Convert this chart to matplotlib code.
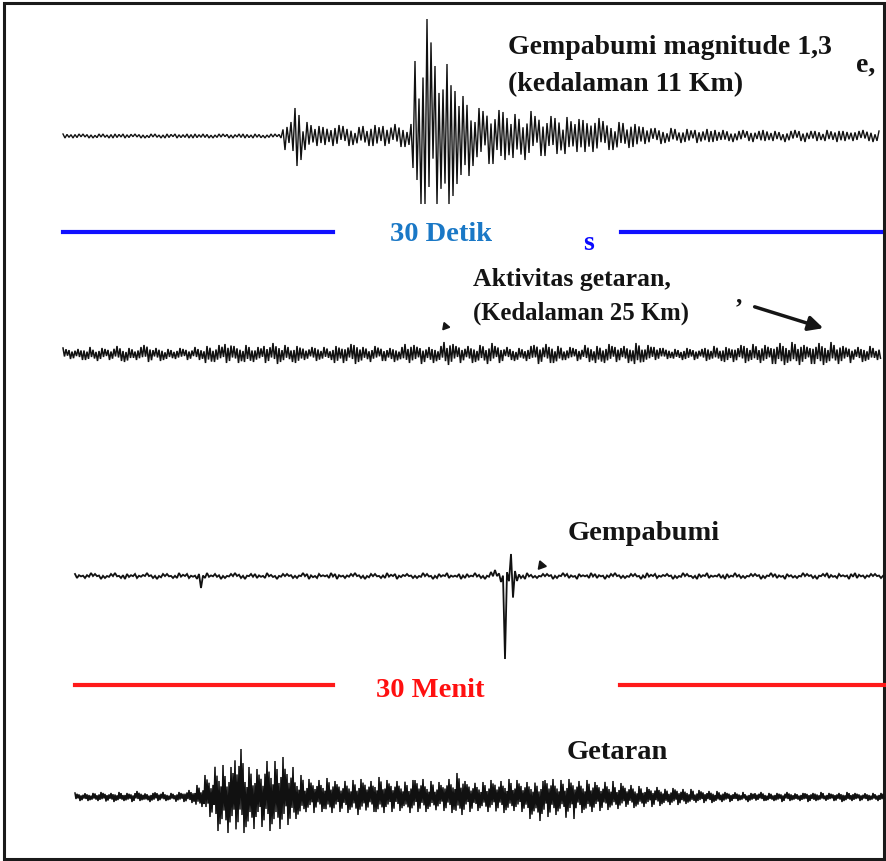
import numpy as np
import matplotlib.pyplot as plt
from matplotlib.patches import Rectangle

plt.rcParams['font.family'] = ['Liberation Serif', 'DejaVu Serif']

# envelope of each trace, one value per 10 px segment (pixels above / below the trace line)
gempa_atas = [2] * 22 + [14, 28, 14,
              10, 9, 11, 10, 9, 10, 11, 10, 12, 12,
              75, 117, 70, 72, 45, 40, 28,
              25, 26, 24, 22, 25, 20,
              20, 18, 19, 17, 16, 18, 15, 14, 13, 12,
              9, 8, 8, 7, 7, 6, 7, 6, 6, 5, 6, 5, 6, 5, 5, 6, 5, 5, 6, 5, 5, 5, 6, 5]
gempa_bawah = [2] * 22 + [14, 30, 14,
               10, 9, 10, 10, 9, 10, 10, 10, 11, 11,
               68, 68, 68, 68, 60, 40, 30,
               28, 28, 24, 22, 24, 20,
               20, 18, 18, 16, 16, 16, 14, 14, 12, 11,
               8, 8, 7, 7, 6, 7, 6, 6, 5, 6, 5, 6, 5, 5, 6, 5, 6, 5, 5, 6, 5, 5, 5, 6]

aktivitas_atas = [6, 5, 7, 6, 5, 8, 6, 7, 9, 6, 5, 6, 5, 7, 8, 9, 10, 8, 9, 7,
                  8, 11, 9, 8, 7, 6, 7, 8, 10, 9, 7, 8, 6, 7, 10, 9, 7, 8, 12, 10,
                  8, 9, 11, 8, 7, 6, 8, 9, 10, 8, 7, 6, 9, 8, 10, 7, 8, 11, 9, 7,
                  6, 5, 6, 5, 6, 8, 7, 9, 8, 10, 9, 11, 12, 10, 9, 11, 12, 9, 8, 7, 8, 6]
aktivitas_bawah = [5, 6, 6, 7, 6, 7, 8, 6, 8, 7, 6, 5, 6, 6, 9, 8, 9, 9, 8, 8,
                   9, 10, 8, 9, 6, 7, 6, 9, 9, 10, 8, 7, 7, 8, 9, 10, 8, 9, 11, 9,
                   9, 8, 10, 9, 6, 7, 7, 10, 9, 9, 6, 7, 8, 9, 9, 8, 9, 10, 8, 6,
                   5, 6, 5, 6, 7, 7, 8, 8, 9, 9, 10, 10, 11, 11, 10, 10, 11, 10, 9, 8, 7, 6]

menit_atas = [2, 3, 2, 2, 3, 2, 2, 3, 2, 2, 3, 2, 2, 3, 2, 2, 3, 2, 2, 3,
              2, 2, 3, 2, 2, 3, 2, 2, 3, 2, 2, 3, 2, 2, 3, 2, 2, 3, 2, 2,
              3, 4, 6, 22, 5, 3, 2, 2, 3, 2, 2, 3, 2, 2, 3, 2, 2, 3, 2, 2,
              3, 2, 2, 3, 2, 2, 3, 2, 2, 3, 2, 2, 3, 2, 2, 3, 2, 2, 3, 2, 2]
menit_bawah = [2, 2, 3, 2, 2, 3, 2, 2, 3, 2, 2, 2, 12, 2, 3, 2, 2, 3, 2, 2,
               3, 2, 2, 3, 2, 2, 3, 2, 2, 3, 2, 2, 3, 2, 2, 3, 2, 2, 3, 2,
               2, 3, 6, 83, 5, 3, 2, 3, 2, 2, 3, 2, 2, 3, 2, 2, 3, 2, 2, 3,
               2, 2, 3, 2, 2, 3, 2, 2, 3, 2, 2, 3, 2, 2, 3, 2, 2, 3, 2, 2, 2]

getaran_atas = [4, 4, 5, 4, 5, 4, 6, 4, 5, 4, 5, 7,
                12, 22, 32, 30, 48, 30, 28, 36, 40, 30, 22,
                18, 17, 19, 16, 17, 18, 16, 20, 17, 16, 17, 18, 16, 15, 18, 24,
                16, 15, 17, 16, 18, 17, 15, 16, 18, 17, 18, 16, 17, 15, 16, 14,
                12, 11, 10, 10, 9, 8, 8, 7, 6, 6,
                5, 5, 4, 5, 4, 4, 5, 4, 4, 5, 4, 4, 5, 4, 4, 4]
getaran_bawah = [4, 4, 4, 5, 4, 5, 4, 5, 4, 4, 5, 6,
                 10, 20, 34, 36, 36, 32, 30, 34, 32, 28, 22,
                 16, 15, 16, 15, 16, 18, 15, 16, 15, 14, 16, 15, 15, 14, 16, 18,
                 15, 14, 15, 16, 14, 15, 22, 24, 20, 18, 22, 16, 15, 14, 13, 12,
                 11, 10, 10, 9, 8, 8, 7, 6, 6, 5,
                 5, 4, 5, 4, 4, 5, 4, 4, 5, 4, 4, 5, 4, 4, 4, 4]

# irregular swing pattern for the wiggle inside each segment
pola = [1.0, 0.45, 0.8, 0.3, 0.65, 0.9, 0.4, 0.7, 0.55, 0.35, 0.85, 0.5, 0.6]
SEG = 10


def jejak(ax, x0, x1, y0, atas, bawah, step, lw, tajam=1):
    x = np.arange(x0, x1, step)
    k = np.arange(len(x))
    seg = np.minimum(((x - x0) // SEG).astype(int), len(atas) - 1)
    naik = k % 2 == 0
    m = np.array([pola[i % len(pola)] for i in k])
    # each segment reaches its listed peak once up and once down
    for s in np.unique(seg):
        for grp in (naik, ~naik):
            sel = (seg == s) & grp
            if sel.any():
                m[sel] = (m[sel] / m[sel].max()) ** tajam
    amp = np.where(naik, np.array(atas)[seg], -np.array(bawah)[seg]) * m
    ax.plot(x, y0 - amp, color='#111111', lw=lw, solid_joinstyle='miter')


fig = plt.figure(figsize=(8.87, 8.62), dpi=100)
ax = fig.add_axes([0, 0, 1, 1])
ax.set_xlim(0, 887)
ax.set_ylim(862, 0)
ax.axis('off')

jejak(ax, 63, 881, 137, gempa_atas, gempa_bawah, 2.0, 1.0)
jejak(ax, 63, 881, 355, aktivitas_atas, aktivitas_bawah, 1.5, 1.1)
jejak(ax, 75, 885, 577, menit_atas, menit_bawah, 2.0, 1.3, tajam=4)
jejak(ax, 75, 885, 798, getaran_atas, getaran_bawah, 1.0, 1.1)

# time scale bars
ax.plot([63, 333], [233, 233], color='#1010ff', lw=3)
ax.plot([621, 881], [233, 233], color='#1010ff', lw=3)
ax.plot([75, 333], [686, 686], color='#ff1a1a', lw=3)
ax.plot([620, 884], [686, 686], color='#ff1a1a', lw=3)

tk = dict(fontweight='bold', color='#141414', va='baseline', ha='left')
ax.text(508, 54, 'Gempabumi magnitude 1,3', fontsize=20, **tk)
ax.text(508, 91, '(kedalaman 11 Km)', fontsize=20, **tk)
ax.text(856, 72, 'e,', fontsize=20, **tk)
ax.text(441, 241, '30 Detik', fontsize=20.5, fontweight='bold', color='#1a78c6',
        ha='center', va='baseline')
ax.text(583, 250, 's', fontsize=20, fontweight='bold', color='#0a0aff', va='baseline')
ax.text(473, 286, 'Aktivitas getaran,', fontsize=18.5, **tk)
ax.text(473, 320, '(Kedalaman 25 Km)', fontsize=17.8, **tk)
ax.text(736, 302, ',', fontsize=18, **tk)
ax.text(568, 540, 'Gempabumi', fontsize=20.5, **tk)
ax.text(430, 697, '30 Menit', fontsize=20.5, fontweight='bold', color='#ff1010',
        ha='center', va='baseline')
ax.text(567, 759, 'Getaran', fontsize=20.5, **tk)

ax.annotate('', xy=(826, 330), xytext=(752, 307),
            arrowprops=dict(arrowstyle='-|>', lw=2.5, color='#151515', mutation_scale=22))
ax.plot([445], [327], marker=(3, 0, 20), ms=6, color='#151515')
ax.plot([541], [566], marker=(3, 0, 20), ms=7, color='#151515')

ax.add_patch(Rectangle((4, 4), 880, 856, fill=False, ec='#1a1a1a', lw=2.2))

fig.savefig('out.png', dpi=100)
